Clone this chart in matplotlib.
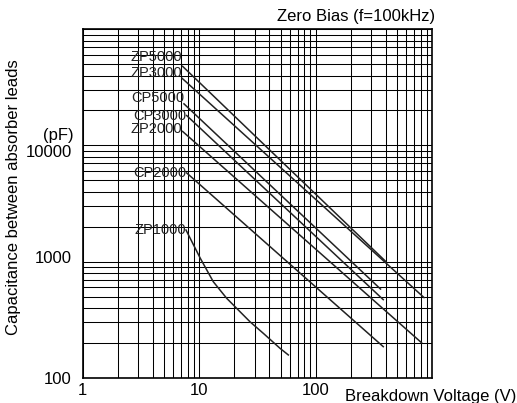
import matplotlib
matplotlib.use("Agg")
import matplotlib.pyplot as plt
import matplotlib.transforms as mtransforms
from matplotlib.ticker import LogLocator, NullFormatter

plt.rcParams['font.family'] = ['Liberation Sans', 'DejaVu Sans']

# ---- data ----
series_names = ["ZP5000", "ZP3000", "CP5000", "CP3000", "ZP2000", "CP2000", "ZP1000"]
zp5000_v = [7.2, 400];   zp5000_c = [48000, 1000]
zp3000_v = [7.1, 850];   zp3000_c = [38000, 490]
cp5000_v = [7.4, 360];   cp5000_c = [22800, 580]
cp3000_v = [7.8, 380];   cp3000_c = [18100, 470]
zp2000_v = [7.2, 810];   zp2000_c = [13200, 200]
cp2000_v = [7.8, 380];   cp2000_c = [5800, 185]
zp1000_v = [7.7, 10.2, 13.2, 17.2, 27.3, 35.5, 49.4, 58.2]
zp1000_c = [1870, 1070, 671, 483, 303, 241, 179, 157]

x_ticks = [1, 10, 100]
x_ticklabels = ["1", "10", "100"]
y_ticks = [100, 1000, 10000]
y_ticklabels = ["100", "1000", "10000"]

series_v = [zp5000_v, zp3000_v, cp5000_v, cp3000_v, zp2000_v, cp2000_v, zp1000_v]
series_c = [zp5000_c, zp3000_c, cp5000_c, cp3000_c, zp2000_c, cp2000_c, zp1000_c]
label_dy = [7, 4, 4, 0, 2, 0, 0]  # vertical pixel nudges for labels

fig = plt.figure(figsize=(5.17, 4.03), dpi=100)
ax = fig.add_axes([0.16, 0.0628, 0.676, 0.8645])
ax.set_xscale('log')
ax.set_yscale('log')
ax.set_xlim(1, 1000)
ax.set_ylim(100, 100000)

ax.xaxis.set_minor_locator(LogLocator(base=10, subs=range(2, 10), numticks=20))
ax.yaxis.set_minor_locator(LogLocator(base=10, subs=range(2, 10), numticks=20))
ax.xaxis.set_minor_formatter(NullFormatter())
ax.yaxis.set_minor_formatter(NullFormatter())
ax.set_xticks(x_ticks + [1000])
ax.set_xticklabels(x_ticklabels + [""])
ax.set_yticks(y_ticks + [100000])
ax.set_yticklabels(y_ticklabels + [""])
ax.grid(True, which='both', color='black', linewidth=0.75)
ax.tick_params(which='both', length=0, labelsize=12)
ax.tick_params(axis='x', pad=4)
ax.tick_params(axis='y', pad=8)
for s in ax.spines.values():
    s.set_linewidth(1.2)
    s.set_color('black')

# reference tick labels sit slightly off their grid lines
y_label_shift = {"10000": -6, "1000": 5}
for lab in ax.get_yticklabels():
    sh = y_label_shift.get(lab.get_text(), 0)
    if sh:
        lab.set_transform(lab.get_transform() +
                          mtransforms.ScaledTranslation(0, sh / 100, fig.dpi_scale_trans))

for name, v, c, dy in zip(series_names, series_v, series_c, label_dy):
    ax.plot(v, c, color='#222222', linewidth=1.1)
    ax.annotate(name, xy=(v[0], c[0]), xytext=(0, dy), textcoords='offset points',
                ha='right', va='center', fontsize=10.5, color='#222222')

fig.text(0.842, 0.958, "Zero Bias (f=100kHz)", ha='right', va='center', fontsize=12)
fig.text(0.999, 0.015, "Breakdown Voltage (V)", ha='right', va='center', fontsize=12)
fig.text(0.026, 0.51, "Capacitance between absorber leads", rotation=90,
         ha='center', va='center', fontsize=12)
fig.text(0.112, 0.665, "(pF)", ha='center', va='center', fontsize=12)

fig.savefig("out.png", dpi=100)
